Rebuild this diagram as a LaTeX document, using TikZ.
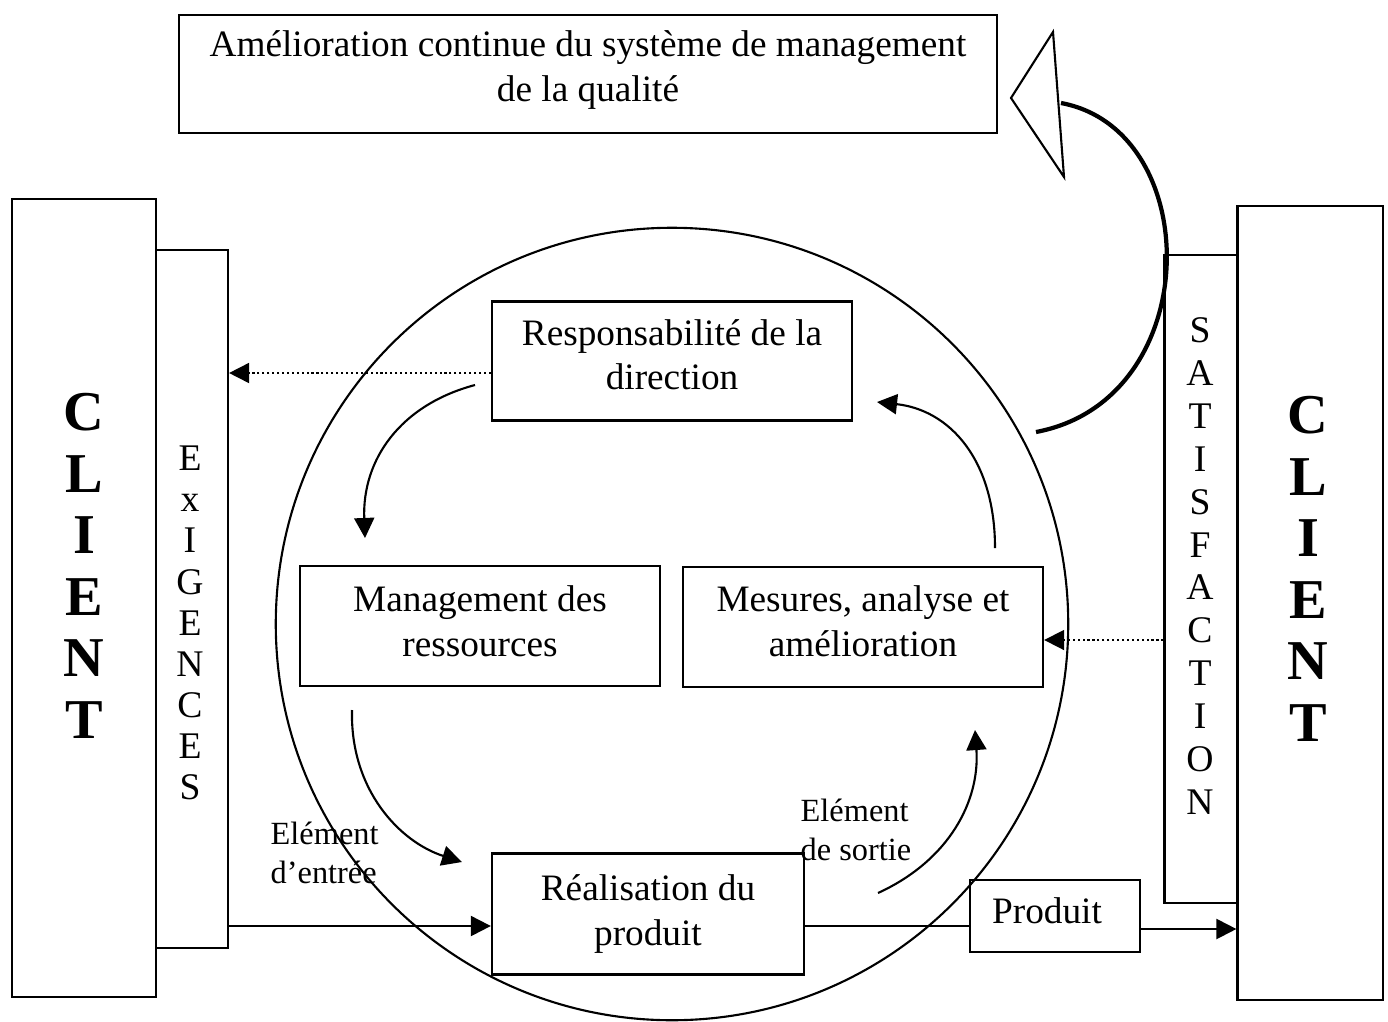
\documentclass[tikz,border=0pt]{standalone}
\usepackage{fontspec}
\setmainfont{Liberation Serif}
\usetikzlibrary{arrows.meta}

\begin{document}
\begin{tikzpicture}[
        x=0.01cm, y=-0.01cm,
        box/.style={draw, line width=0.6pt, inner sep=0pt, align=center,
          font=\fontsize{10.6}{12.6}\selectfont},
        letters/.style={inner sep=0pt, align=center, font=\fontsize{10.7}{#1}\selectfont},
        clientname/.style={inner sep=0pt, align=center, font=\fontsize{16}{17.5}\selectfont\bfseries},
        tag/.style={inner sep=0pt, anchor=west, align=left, font=\fontsize{9.2}{11.3}\selectfont},
        flow/.style={-{Triangle[length=5.7pt,width=5.7pt]}, line width=0.6pt},
        feed/.style={flow, line width=0.5pt, dash pattern=on 0.6pt off 0.8pt}
      ]
      \useasboundingbox (0,0) rectangle (1388,1021);

      \node[box, text depth=4.6pt, minimum width=8.17cm, minimum height=1.18cm] (amelioration) at (588,74)
        {Amélioration continue du système de management\\de la qualité};

      \node[box, minimum width=1.44cm, minimum height=7.97cm] (clientL) at (84,598) {};
      \node[box, minimum width=0.72cm, minimum height=6.98cm] (exigences) at (192,599) {};
      \node[box, minimum width=0.73cm, minimum height=6.48cm] (satisfaction) at (1201,579) {};
      \node[box, minimum width=1.45cm, minimum height=7.93cm] (clientR) at (1310,603) {};

      \node[clientname] (clientLtxt) at (84,566) {C\\L\\I\\E\\N\\T};
      \node[clientname] (clientRtxt) at (1308,569) {C\\L\\I\\E\\N\\T};
      \node[letters=11.7] (exigtxt) at (190,623) {E\\x\\I\\G\\E\\N\\C\\E\\S};
      \node[letters=12.2] (satistxt) at (1200,566) {S\\A\\T\\I\\S\\F\\A\\C\\T\\I\\O\\N};

      \node[draw, circle, line width=0.6pt, minimum size=7.92cm] (processus) at (672,624) {};

      \node[box, text depth=3.6pt, minimum width=3.6cm, minimum height=1.19cm] (direction) at (672,361)
        {Responsabilité de la\\direction};
      \node[box, text depth=2.8pt, minimum width=3.6cm, minimum height=1.2cm] (ressources) at (480,626)
        {Management des\\ressources};
      \node[box, text depth=3.3pt, minimum width=3.6cm, minimum height=1.2cm] (mesures) at (863,627)
        {Mesures, analyse et\\amélioration};
      \node[box, minimum width=3.12cm, minimum height=1.21cm] (realisation) at (648,914)
        {Réalisation du\\produit};
      \node[box, text depth=3.2pt, minimum width=1.7cm, minimum height=0.72cm] (produit) at (1055,916)
        {Produit\hspace{0.16cm}};

      \node[tag] (entree) at (270,853) {Elément\\d’entrée};
      \node[tag] (sortie) at (800,830) {Elément\\de sortie};

      \coordinate (dirOut) at (475,385);
      \coordinate (resIn) at (365,538);
      \coordinate (resOut) at (352,710);
      \coordinate (realIn) at (462,862);
      \coordinate (realOut) at (878,893);
      \coordinate (mesIn) at (975,730);
      \coordinate (mesOut) at (995,548);
      \coordinate (dirIn) at (877,402);
      \coordinate (boucle) at (1036,432);
      \coordinate (pointe) at (1061,103);

      \draw[feed] (direction.west |- 0,373) -- (exigences.east |- 0,373);
      \draw[feed] (satisfaction.west |- 0,640) -- (mesures.east |- 0,640);
      \draw[flow] (exigences.east |- 0,926) -- (realisation.west |- 0,926);
      \draw[line width=0.6pt] (realisation.east |- 0,926) -- (produit.west |- 0,926);
      \draw[flow] (produit.east |- 0,929) -- (clientR.west |- 0,929);

      \draw[flow] (dirOut) .. controls (400,405) and (362,460) .. (resIn);
      \draw[flow] (resOut) .. controls (350,790) and (400,842) .. (realIn);
      \draw[flow] (realOut) .. controls (950,860) and (980,800) .. (mesIn);
      \draw[flow] (mesOut) .. controls (995,460) and (950,410) .. (dirIn);

      \draw[line width=1.2pt] (boucle) .. controls (1206,400) and (1206,130) .. (pointe);
      \draw[line width=0.6pt, fill=white] (1011,98) -- (1053,32) -- (1064,177) -- cycle;
\end{tikzpicture}
\end{document}
